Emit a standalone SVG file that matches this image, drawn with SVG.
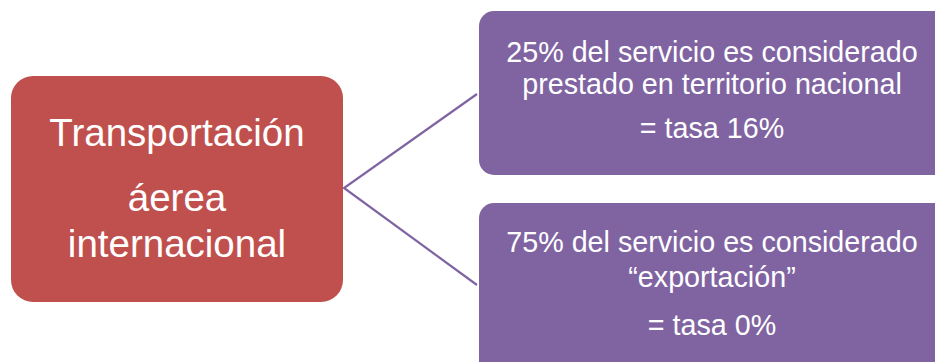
<svg xmlns="http://www.w3.org/2000/svg" width="935" height="362" viewBox="0 0 935 362">
<style>
.bg{fill:#ffffff}
.red{fill:#C0504D}
.pur{fill:#8064A2}
.t{font-family:"Liberation Sans","Open Sans",Arial,sans-serif;fill:#ffffff;text-anchor:middle}
.big{font-size:38.5px}
.sm{font-size:28.7px}
.conn{stroke:#8064A2;stroke-width:2.2;fill:none}
</style>
<rect class="bg" x="0" y="0" width="935" height="362"/>
<g id="connectors">
<polyline class="conn" points="477,94 344,188 477,285"/>
</g>
<g id="node-left">
<rect class="red" x="11" y="76" width="332" height="226" rx="22"/>
<text class="t big" x="177" y="146">Transportación</text>
<text class="t big" x="177" y="211">áerea</text>
<text class="t big" x="177" y="257">internacional</text>
</g>
<g id="node-top">
<rect class="pur" x="479" y="11" width="470" height="164" rx="15"/>
<text class="t sm" x="712" y="62">25% del servicio es considerado</text>
<text class="t sm" x="712" y="94">prestado en territorio nacional</text>
<text class="t sm" x="712" y="138">= tasa 16%</text>
</g>
<g id="node-bottom">
<rect class="pur" x="479" y="203" width="470" height="175" rx="15"/>
<text class="t sm" x="712" y="252">75% del servicio es considerado</text>
<text class="t sm" x="712" y="287">“exportación”</text>
<text class="t sm" x="712" y="335">= tasa 0%</text>
</g>
</svg>
